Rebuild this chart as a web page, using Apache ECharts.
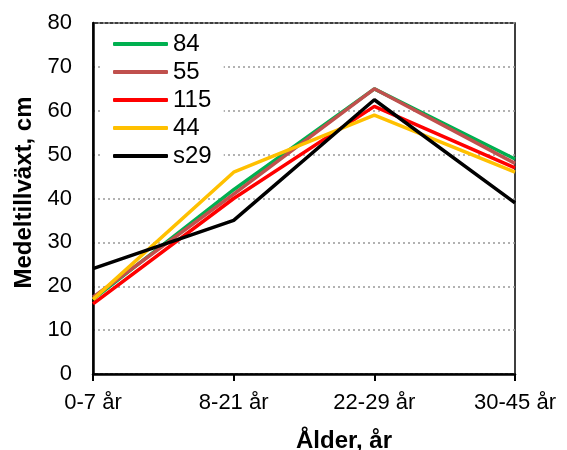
<!DOCTYPE html>
<html><head><meta charset="utf-8">
<script src="https://cdn.jsdelivr.net/npm/echarts@6/dist/echarts.min.js"></script>
<style>html,body{margin:0;padding:0;background:#fff}#c{width:567px;height:450px}</style>
</head><body><div id="c"></div>
<script>
const categories = ['0-7 år', '8-21 år', '22-29 år', '30-45 år'];
const seriesNames = ['84', '55', '115', '44', 's29'];
const s84 = [17, 42, 65, 49];
const s55 = [17.5, 41, 65, 48];
const s115 = [16, 40, 61, 47];
const s44 = [17, 46, 59, 46];
const s29 = [24, 35, 62.5, 39];
const colors = ['#00B050', '#C0504D', '#FF0000', '#FFC000', '#000000'];
const yTicks = {min: 0, max: 80, interval: 10};
const values = [s84, s55, s115, s44, s29];

const chart = echarts.init(document.getElementById('c'), null, {renderer: 'canvas'});
const font = 'Liberation Sans, Arial, sans-serif';
chart.setOption({
  animation: false,
  backgroundColor: '#fff',
  grid: {left: 93, right: 52, top: 23, bottom: 76, show: true, borderColor: '#000', borderWidth: 1.5, backgroundColor: 'transparent', containLabel: false, outerBoundsMode: 'none'},
  legend: {
    orient: 'vertical', left: 100, top: 25,
    padding: [7, 12, 6, 13],
    backgroundColor: '#fff',
    itemWidth: 55, itemHeight: 4, itemGap: 4,
    icon: 'roundRect',
    textStyle: {fontFamily: font, fontSize: 24, color: '#000', lineHeight: 24},
    data: seriesNames
  },
  xAxis: {
    type: 'category', data: categories, boundaryGap: false,
    axisLine: {lineStyle: {color: '#000', width: 2.5}},
    axisTick: {show: true, length: 7, lineStyle: {color: '#000', width: 2}},
    axisLabel: {fontFamily: font, fontSize: 22, color: '#000', margin: 18},
    name: 'Ålder, år', nameLocation: 'middle', nameGap: 55,
    nameTextStyle: {fontFamily: font, fontSize: 24, fontWeight: 'bold', color: '#000', padding: [0, 0, 0, 80]}
  },
  yAxis: {
    type: 'value', min: yTicks.min, max: yTicks.max, interval: yTicks.interval,
    axisLine: {show: true, lineStyle: {color: '#000', width: 2.5}},
    axisTick: {show: false},
    axisLabel: {fontFamily: font, fontSize: 22, color: '#000', margin: 21},
    splitLine: {lineStyle: {color: '#999', width: 1.5, type: [2, 3]}},
    name: 'Medeltillväxt, cm', nameLocation: 'middle', nameGap: 57,
    nameTextStyle: {fontFamily: font, fontSize: 24, fontWeight: 'bold', color: '#000', padding: [0, 0, 0, 12]}
  },
  series: seriesNames.map((n, i) => ({
    name: n, type: 'line', data: values[i], symbol: 'none',
    lineStyle: {color: colors[i], width: 3.5},
    itemStyle: {color: colors[i]}
  }))
});
</script></body></html>
